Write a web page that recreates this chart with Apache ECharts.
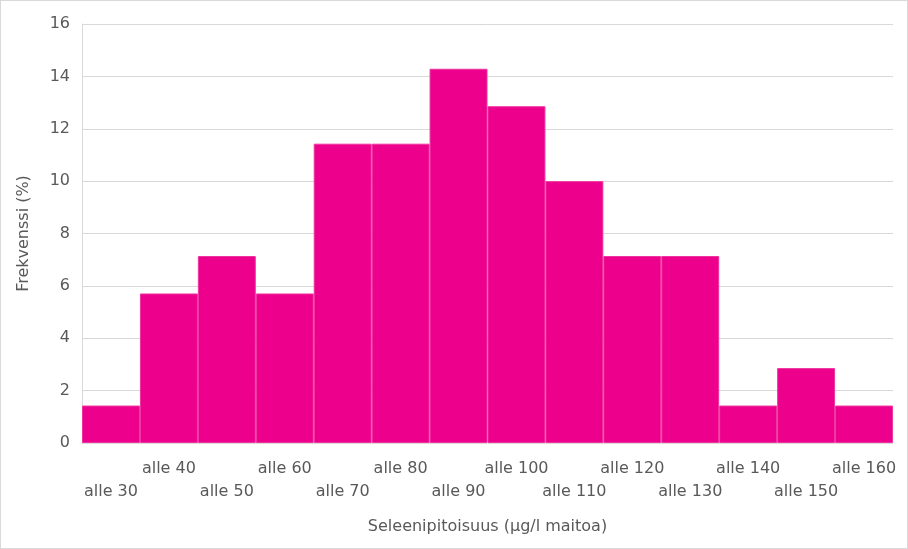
<!DOCTYPE html>
<html>
<head>
<meta charset="utf-8">
<script src="https://cdn.jsdelivr.net/npm/echarts@6/dist/echarts.min.js"></script>
<style>
  html, body { margin: 0; padding: 0; background: #fff; }
  #chart { width: 906px; height: 547px; border: 1px solid #d9d9d9; box-sizing: content-box; }
</style>
</head>
<body>
<div id="chart"></div>
<script>
const categories = ['alle 30','alle 40','alle 50','alle 60','alle 70','alle 80','alle 90','alle 100','alle 110','alle 120','alle 130','alle 140','alle 150','alle 160'];
const frequencies = [1.43, 5.71, 7.14, 5.71, 11.43, 11.43, 14.29, 12.86, 10.0, 7.14, 7.14, 1.43, 2.86, 1.43];
const yTicks = { min: 0, max: 16, interval: 2 };
const xTitle = 'Seleenipitoisuus (µg/l maitoa)';
const yTitle = 'Frekvenssi (%)';

const chart = echarts.init(document.getElementById('chart'), null, { renderer: 'canvas' });
const font = 'DejaVu Sans';
chart.setOption({
  animation: false,
  grid: { left: 81, right: 14, top: 23, bottom: 105, containLabel: false },
  xAxis: {
    type: 'category',
    data: categories,
    name: xTitle,
    nameLocation: 'middle',
    nameGap: 76,
    nameTextStyle: { color: '#595959', fontFamily: font, fontSize: 16 },
    axisLine: { show: false },
    axisTick: { show: false },
    axisLabel: {
      interval: 0,
      margin: 14,
      color: '#595959',
      fontFamily: font,
      fontSize: 16,
      lineHeight: 23,
      formatter: function (v, i) { return i % 2 === 0 ? '\n' + v : v + '\n'; }
    }
  },
  yAxis: {
    type: 'value',
    min: yTicks.min, max: yTicks.max, interval: yTicks.interval,
    name: yTitle,
    nameLocation: 'middle',
    nameGap: 50,
    nameTextStyle: { color: '#595959', fontFamily: font, fontSize: 16 },
    axisLine: { show: true, lineStyle: { color: '#d9d9d9', width: 1 } },
    axisTick: { show: false },
    axisLabel: { color: '#595959', fontFamily: font, fontSize: 16, margin: 12 },
    splitLine: { show: true, lineStyle: { color: '#d9d9d9', width: 1 } }
  },
  series: [{
    type: 'bar',
    data: frequencies,
    barCategoryGap: '0%',
    itemStyle: { color: '#EC008C', borderColor: '#F0339F', borderWidth: 1 }
  }]
});
</script>
</body>
</html>
